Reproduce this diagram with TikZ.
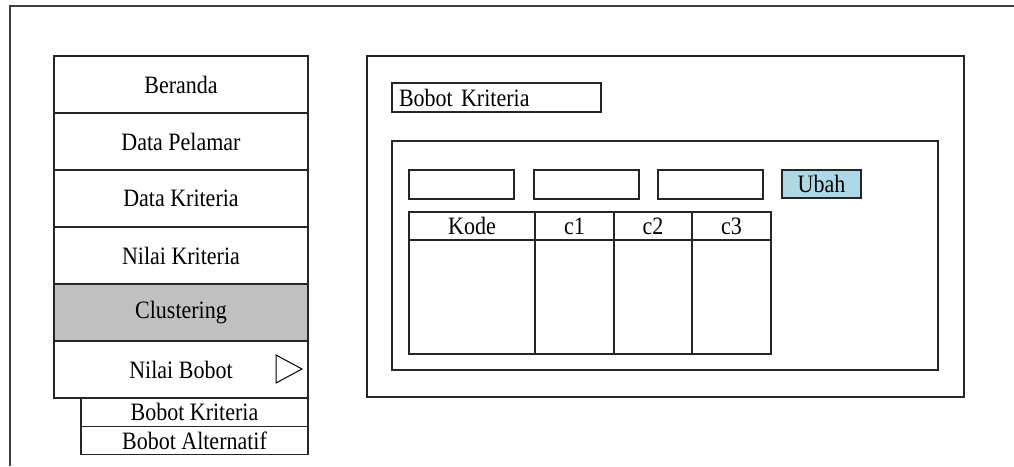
\documentclass[tikz,border=0pt]{standalone}
\usepackage{fontspec}
\setmainfont{Liberation Serif}[FakeStretch=0.88]
\usetikzlibrary{positioning}
\definecolor{menugray}{RGB}{192,192,192}
\definecolor{btnblue}{RGB}{173,216,230}
\tikzset{
	box/.style={draw=black!85, line width=1.1pt, inner sep=0pt, outer sep=0pt},
	menuitem/.style={box, minimum width=254, minimum height=57},
	subitem/.style={box, minimum width=227, minimum height=28.5},
	field/.style={box, minimum width=105, minimum height=29},
	cell/.style={box, minimum height=28},
	body/.style={box, minimum height=114}
}

\begin{document}
\begin{tikzpicture}[x=1pt,y=-1pt,font=\fontsize{25}{27}\selectfont]
	\useasboundingbox (0,0) rectangle (1014,466);
	% page frame, only top and left edges show
	\draw[black!75, line width=2pt] (9.5,466) -- (9.5,6) -- (1014,6);

	% side menu
	\node[menuitem, anchor=north west] (beranda) at (54,56) {Beranda};
	\node[menuitem, below=0pt of beranda] (pelamar) {Data Pelamar};
	\node[menuitem, below=0pt of pelamar] (kriteria) {Data Kriteria};
	\node[menuitem, below=0pt of kriteria] (nilai) {Nilai Kriteria};
	\node[menuitem, below=0pt of nilai, fill=menugray] (cluster) {Clustering};
	\node[menuitem, below=0pt of cluster] (bobot) {Nilai Bobot};
	\coordinate (tria) at (276,355);
	\coordinate (trib) at (276,383);
	\coordinate (tric) at (302,369);
	\draw[line width=1pt] (tria) -- (tric) -- (trib) -- cycle;
	% sub menu of Nilai Bobot
	\node[subitem, anchor=north east] (bkrit) at (bobot.south east) {Bobot Kriteria};
	\node[subitem, anchor=north east, minimum height=28] (balt) at (bkrit.south east) {Bobot Alternatif};

	% content panel
	\node[box, anchor=north west, minimum width=597, minimum height=341] (panel) at (367,56) {};
	\node[box, anchor=north west, minimum width=209, minimum height=29, text width=195, inner xsep=7pt, align=left] (judul) at (392,83) {Bobot Kriteria};
	\node[box, anchor=north west, minimum width=546, minimum height=229] (isi) at (392,141) {};
	\node[field, anchor=north west] (in1) at (409,170) {};
	\node[field, anchor=north west] (in2) at (534,170) {};
	\node[field, anchor=north west] (in3) at (658,170) {};
	\node[box, anchor=north west, minimum width=79, minimum height=28, fill=btnblue] (ubah) at (782,170) {Ubah};

	% table
	\node[cell, anchor=north west, minimum width=126] (kode) at (409,212) {Kode};
	\node[cell, anchor=north west, minimum width=79] (c1) at (kode.north east) {c1};
	\node[cell, anchor=north west, minimum width=78] (c2) at (c1.north east) {c2};
	\node[cell, anchor=north west, minimum width=79] (c3) at (c2.north east) {c3};
	\foreach \s/\w in {kode/126,c1/79,c2/78,c3/79}
		\node[body, anchor=north, minimum width=\w] (\s-isi) at (\s.south) {};
\end{tikzpicture}
\end{document}
